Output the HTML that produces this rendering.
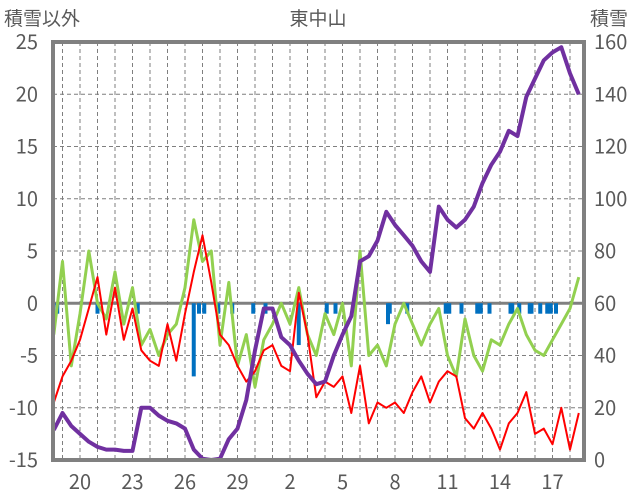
<!DOCTYPE html>
<html><head><meta charset="utf-8"><style>
html,body{margin:0;padding:0;background:#fff;}
svg{display:block;font-family:"Liberation Sans","Noto Sans CJK JP",sans-serif;}
</style></head><body>
<svg id="chart" width="636" height="501" viewBox="0 0 636 501">
<g id="grid"></g>
<g id="bars"></g>
<g id="lines"></g>
<g id="frame"></g>
<g id="labels"></g>
<text x="318" y="25" text-anchor="middle" font-size="19" fill="#595959">東中山</text>
<text x="4" y="25" font-size="19" fill="#595959">積雪以外</text>
<text x="590" y="25" font-size="19" fill="#595959">積雪</text>
</svg>
<script>
const xTickLabels = ["20","23","26","29","2","5","8","11","14","17"];
const xTickDays = [20,23,26,29,32,35,38,41,44,47];
const leftTicks = [25,20,15,10,5,0,-5,-10,-15];
const rightTicks = [160,140,120,100,80,60,40,20,0];
const startDay = 18.5, stepDay = 0.5;
const redSeries = [-9.5,-7,-5.5,-3.5,-0.5,2.5,-3,1.5,-3.5,-0.5,-4.5,-5.5,-6,-2,-5.5,-1,3,6.5,2,-3,-4,-6,-7.5,-6.5,-4.5,-4,-6,-6.5,1,-3,-9,-7.5,-8,-7,-10.5,-6,-11.5,-9.5,-10,-9.5,-10.5,-8.5,-7,-9.5,-7.5,-6.5,-7,-11,-12,-10.5,-12,-14,-11.5,-10.5,-8.5,-12.5,-12,-13.5,-10,-14,-10.5];
const greenSeries = [-3,4,-6,-1,5,0,-1.5,3,-2,1.5,-4,-2.5,-5,-3,-2,1.5,8,4,5,-4,2,-6,-3,-8,-3.5,-2,0,-2,1.5,-3,-5,-1,-3,0,-6,5,-5,-4,-6,-2,0,-2,-4,-2,-0.5,-5,-7,-1.5,-5,-6.5,-3.5,-4,-2,-0.5,-3,-4.5,-5,-3.5,-2,-0.5,2.5];
const snowSeries = [11.5,18,13,10,7,5,4,4,3.5,3.5,20,20,17,15,14,12,4,0.5,0,0.5,8,12,23,42,58,58,47,44,38,33,29,30,40,48,55,76,78,84,95,90,86,82,76,72,97,92,89,92,97,106,113,118,126,124,139,146,153,156,158,148,140];
const barDays = [18.7,21.0,23.3,26.5,26.8,27.1,27.9,28.7,29.9,30.6,32.5,34.1,34.6,37.6,37.7,38.7,40.9,41.1,41.8,42.7,42.9,43.4,44.6,44.7,45.1,45.7,45.8,46.3,46.7,46.9,47.2];
const barValues = [-1,-1,-1,-7,-1,-1,-1,-1,-1,-1,-4,-1,-1,-2,-1,-1,-1,-1,-1,-1,-1,-1,-1,-1,-1,-1,-1,-1,-1,-1,-1];

const NS="http://www.w3.org/2000/svg";
const L=53,R=584,T=42,B=460;
const xS=d=>80+(d-20)*17.5;
const yL=v=>T+(25-v)*(B-T)/40;
const yR=v=>B-v*(B-T)/160;
function mk(tag,attrs,parent){const e=document.createElementNS(NS,tag);for(const k in attrs)e.setAttribute(k,attrs[k]);parent.appendChild(e);return e;}
const grid=document.getElementById('grid'),bars=document.getElementById('bars'),lines=document.getElementById('lines'),frame=document.getElementById('frame'),labels=document.getElementById('labels');
for(let d=19;d<=48;d++){const x=xS(d);if(x<=L+2||x>=R-2)continue;
 const g=mk('line',{x1:x,x2:x,y1:T,y2:B,stroke:'#7f7f7f','stroke-width':1,'stroke-dasharray':'4,3'},grid);
 
 }
leftTicks.forEach(v=>{const y=yL(v);
 if(v!==25&&v!==-15&&v!==0){const g=mk('line',{x1:L,x2:R,y1:y,y2:y,stroke:'#7f7f7f','stroke-width':1,'stroke-dasharray':'4,3'},grid);
 
 }
 const t=mk('text',{x:38,y:y+7,'text-anchor':'end','font-size':20,fill:'#595959','font-family':'"Noto Sans CJK JP",sans-serif'},labels);t.textContent=v;
 
 });
rightTicks.forEach(v=>{const t=mk('text',{x:594,y:yR(v)+7,'font-size':20,fill:'#595959','font-family':'"Noto Sans CJK JP",sans-serif'},labels);t.textContent=v;
 
 });
xTickLabels.forEach((s,i)=>{const t=mk('text',{x:xS(xTickDays[i]),y:489,'text-anchor':'middle','font-size':20,fill:'#595959','font-family':'"Noto Sans CJK JP",sans-serif'},labels);t.textContent=s;
 
 });
barDays.forEach((d,i)=>{const y0=yL(0),y1=yL(barValues[i]);
 const r=mk('rect',{x:xS(d)-2,y:y0,width:4,height:y1-y0,fill:'#0070c0'},bars);
 
 });
function pts(arr,yf){return arr.map((v,i)=>{let x=xS(startDay+i*stepDay);x=Math.max(L,Math.min(R,x));return x.toFixed(1)+','+Math.max(T,Math.min(B,yf(v))).toFixed(1);}).join(' ');}
const z=mk('line',{x1:L,x2:R,y1:yL(0),y2:yL(0),stroke:'#808080','stroke-width':3},grid);


const gl=mk('polyline',{points:pts(greenSeries,yL),fill:'none',stroke:'#92d050','stroke-width':3,'stroke-linejoin':'round'},lines);


const rl=mk('polyline',{points:pts(redSeries,yL),fill:'none',stroke:'#ff0000','stroke-width':2,'stroke-linejoin':'round'},lines);


const pl=mk('polyline',{points:pts(snowSeries,yR),fill:'none',stroke:'#7030a0','stroke-width':4,'stroke-linejoin':'round'},lines);


const fr=mk('rect',{x:L,y:T,width:R-L,height:B-T,fill:'none',stroke:'#808080','stroke-width':4},frame);


</script>
</body></html>
